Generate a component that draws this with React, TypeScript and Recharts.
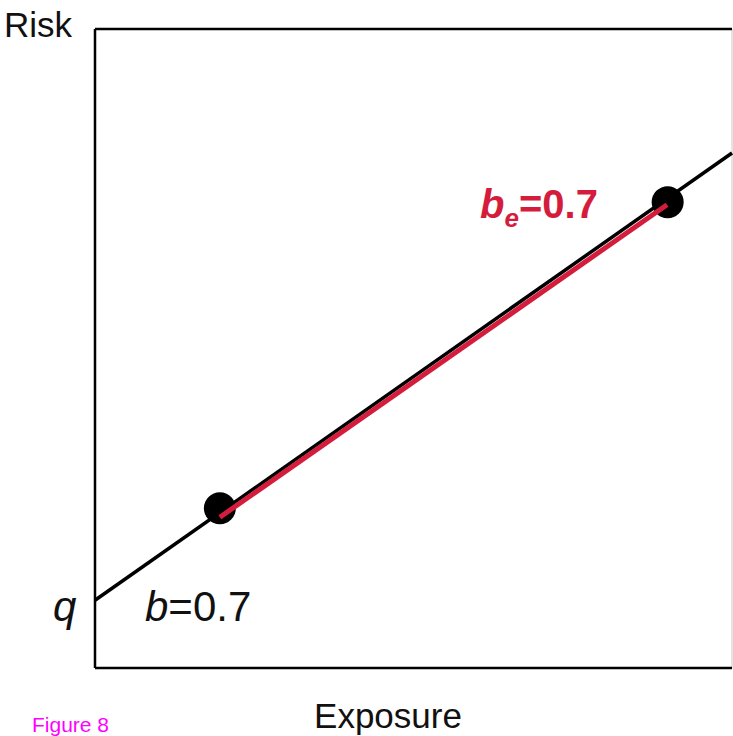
import { ComposedChart, ReferenceLine, Scatter, XAxis, YAxis } from 'recharts';

// risk = q + b * exposure (0..100 units on both axes)
const blackLine = [
  { x: 0, y: 10.6 },
  { x: 100, y: 80.6 },
];
const redLine = [
  { x: 19.6, y: 23.6 },
  { x: 89.8, y: 72.5 },
];
const points = [
  { x: 19.6, y: 25.0 },
  { x: 89.9, y: 72.9 },
];

const W = 733;
const H = 736;
const font = '"Liberation Sans", Arial, sans-serif';
const red = '#d41d3c';

const Dot = (props: any) => <circle cx={props.cx} cy={props.cy} r={16} fill="#000" />;
const NoShape = () => <g />;

export default function App() {
  return (
    <div style={{ position: 'absolute', left: 0, top: 0, width: W, height: H, background: '#fff' }}>
      <ComposedChart width={W} height={H} margin={{ top: 29, right: 1, bottom: 68, left: 95 }}>
        <XAxis type="number" dataKey="x" domain={[0, 100]} hide />
        <YAxis type="number" dataKey="y" domain={[0, 100]} hide />
        <ReferenceLine x={100} stroke="#c8c8c8" strokeWidth={1} />
        <ReferenceLine y={100} stroke="#000" strokeWidth={2.5} />
        <ReferenceLine y={0} stroke="#000" strokeWidth={2.5} />
        <ReferenceLine x={0} stroke="#000" strokeWidth={2.5} />
        <Scatter data={blackLine} line={{ stroke: '#000', strokeWidth: 3.5 }} shape={NoShape} isAnimationActive={false} />
        <Scatter data={points} shape={Dot} isAnimationActive={false} />
        <Scatter data={redLine} line={{ stroke: red, strokeWidth: 5 }} shape={NoShape} isAnimationActive={false} />
      </ComposedChart>
      <svg width={W} height={H} style={{ position: 'absolute', left: 0, top: 0, pointerEvents: 'none' }}>
        <text x={4} y={37} fontFamily={font} fontSize={35} fill="#111">Risk</text>
        <text x={53} y={621} fontFamily={font} fontSize={42} fontStyle="italic" fill="#111">q</text>
        <text x={145} y={621} fontFamily={font} fontSize={42} fill="#111">
          <tspan fontStyle="italic">b</tspan>=0.7
        </text>
        <text x={480} y={218} fontFamily={font} fontSize={40} fontWeight="bold" fill={red}>
          <tspan fontStyle="italic">b</tspan>
          <tspan fontStyle="italic" fontSize={26} dy={9}>e</tspan>
          <tspan dy={-9}>=0.7</tspan>
        </text>
        <text x={388} y={728} fontFamily={font} fontSize={35} textAnchor="middle" fill="#111">Exposure</text>
        <text x={32} y={732} fontFamily={font} fontSize={21} fill="#ff00ff">Figure 8</text>
      </svg>
    </div>
  );
}
